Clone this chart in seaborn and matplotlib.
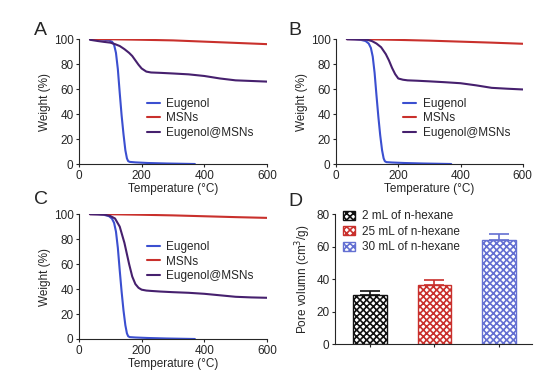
import numpy as np
import pandas as pd
import matplotlib
matplotlib.use("Agg")
import matplotlib.pyplot as plt
import seaborn as sns

# --- DATA ---
T_EUG = [35, 60, 80, 95, 105, 112, 118, 124, 130, 136, 142, 148, 153, 157, 162, 180, 220, 280, 370]
EUG_A = [100, 99.8, 99.5, 99, 98, 95.5, 89, 76, 57, 39, 24, 11, 4.5, 2.3, 1.7, 1.3, 0.8, 0.4, 0]
EUG_B = [100, 99.8, 99.4, 98.5, 96.5, 93, 86, 73, 55, 38, 23, 11, 4.5, 2.2, 1.5, 1.2, 0.8, 0.4, 0]
EUG_C = [100, 99.8, 99.4, 98.5, 96.5, 93, 86, 73, 55, 38, 23, 11, 4.5, 2.2, 1.5, 1.2, 0.8, 0.4, 0]

T_MSN = [35, 100, 200, 300, 400, 500, 600]
MSN_A = [100, 99.9, 99.5, 99, 98, 97, 96]
MSN_B = [100, 99.9, 99.4, 98.8, 98, 97.2, 96.3]
MSN_C = [100, 99.9, 99.5, 99, 98.3, 97.6, 97]

T_COMP = [35, 60, 80, 100, 115, 130, 145, 160, 170, 180, 190, 200, 215, 230, 260, 300, 350, 400, 450, 500, 550, 600]
COMP_A = [99.5, 98.5, 97.8, 97.2, 96, 94.5, 92, 89, 86.5, 83, 79.5, 76.5, 74, 73.3, 73, 72.5, 71.8, 70.5, 68.5, 67, 66.5, 66]
COMP_B = [100, 99.9, 99.8, 99.5, 98.5, 96.5, 93.5, 88, 83, 77, 72, 68.5, 67.5, 67, 66.7, 66.2, 65.5, 64.7, 63, 61, 60.3, 59.7]
COMP_C = [100, 99.9, 99.7, 98.5, 96.5, 90, 77, 60, 50, 44, 41, 39.5, 38.8, 38.5, 38, 37.5, 37, 36.2, 35, 33.8, 33.3, 33]

BAR_LABELS = ["2 mL of n-hexane", "25 mL of n-hexane", "30 mL of n-hexane"]
BAR_VALUES = [30, 36.5, 64]
BAR_ERR = [2.5, 3, 3.5]

# --- STYLE ---
sns.set_style("ticks")
plt.rcParams['font.family'] = ['Liberation Sans', 'DejaVu Sans']
plt.rcParams['font.size'] = 8.5
plt.rcParams['axes.linewidth'] = 0.8
plt.rcParams['xtick.major.width'] = 0.8
plt.rcParams['ytick.major.width'] = 0.8
plt.rcParams['xtick.major.size'] = 2.5
plt.rcParams['ytick.major.size'] = 2.5
plt.rcParams['xtick.major.pad'] = 1.5
plt.rcParams['ytick.major.pad'] = 1.5
plt.rcParams['hatch.linewidth'] = 1.2

C_EUG = "#3b4fd0"
C_MSN = "#c9302c"
C_COMP = "#46206e"

fig = plt.figure(figsize=(5.51, 3.83), dpi=100)

ax_a = fig.add_axes([0.1434, 0.5718, 0.341, 0.326])
ax_b = fig.add_axes([0.6098, 0.5718, 0.339, 0.326])
ax_c = fig.add_axes([0.1434, 0.1149, 0.341, 0.326])
ax_d = fig.add_axes([0.608, 0.1018, 0.3575, 0.339])


def tga_panel(ax, eug, msn, comp, leg_y):
    sns.lineplot(x=T_EUG, y=eug, color=C_EUG, lw=1.5, label="Eugenol", ax=ax)
    sns.lineplot(x=T_MSN, y=msn, color=C_MSN, lw=1.5, label="MSNs", ax=ax)
    sns.lineplot(x=T_COMP, y=comp, color=C_COMP, lw=1.5, label="Eugenol@MSNs", ax=ax)
    ax.set_xlim(0, 600)
    ax.set_ylim(0, 100)
    ax.set_xticks([0, 200, 400, 600])
    ax.set_yticks([0, 20, 40, 60, 80, 100])
    ax.set_xlabel("Temperature (°C)", labelpad=1)
    ax.set_ylabel("Weight (%)", labelpad=2)
    ax.legend(frameon=False, loc="upper left", bbox_to_anchor=(0.36, leg_y),
              handlelength=1.1, handletextpad=0.55, labelspacing=0.22,
              borderaxespad=0, borderpad=0)
    sns.despine(ax=ax)


tga_panel(ax_a, EUG_A, MSN_A, COMP_A, 0.53)
tga_panel(ax_b, EUG_B, MSN_B, COMP_B, 0.53)
tga_panel(ax_c, EUG_C, MSN_C, COMP_C, 0.785)

# --- BAR PANEL ---
bar_colors = ["#111111", "#c9302c", "#6470d2"]
df = pd.DataFrame({"group": BAR_LABELS, "value": BAR_VALUES})
sns.barplot(data=df, x="group", y="value", hue="group", palette=bar_colors,
            width=0.52, ax=ax_d, legend=False, saturation=1)
for patch, col in zip(ax_d.patches, bar_colors):
    patch.set_facecolor("white")
    patch.set_edgecolor(col)
    patch.set_hatch("xxxxx")
    patch.set_linewidth(1.0)
for i, (v, e, col) in enumerate(zip(BAR_VALUES, BAR_ERR, bar_colors)):
    ax_d.errorbar(x=[i], y=[v], yerr=[[0], [e]], fmt="none",
                  ecolor=col, elinewidth=1.2, capsize=7, capthick=1.2)
ax_d.set_xlim(-0.54, 2.51)
ax_d.set_ylim(0, 80)
ax_d.set_yticks([0, 20, 40, 60, 80])
ax_d.set_xticks([0, 1, 2])
ax_d.set_xticklabels([])
ax_d.set_xlabel("")
ax_d.set_ylabel("Pore volumn (cm$^3$/g)", labelpad=2)
handles = [plt.Rectangle((0, 0), 1, 1, facecolor="white", edgecolor=c,
                         hatch="xxxxx", lw=1.0) for c in bar_colors]
ax_d.legend(handles, BAR_LABELS, frameon=False, loc="upper left",
            bbox_to_anchor=(0.04, 1.03), handlelength=1.0, handleheight=0.8,
            handletextpad=0.6, labelspacing=0.3, borderaxespad=0, borderpad=0)
sns.despine(ax=ax_d)

# --- PANEL LETTERS ---
for letter, x, y in [("A", 0.0726, 0.92), ("B", 0.536, 0.92),
                     ("C", 0.074, 0.48), ("D", 0.536, 0.475)]:
    fig.text(x, y, letter, fontsize=14, ha="center", va="center")

fig.savefig("out.png", dpi=100)
